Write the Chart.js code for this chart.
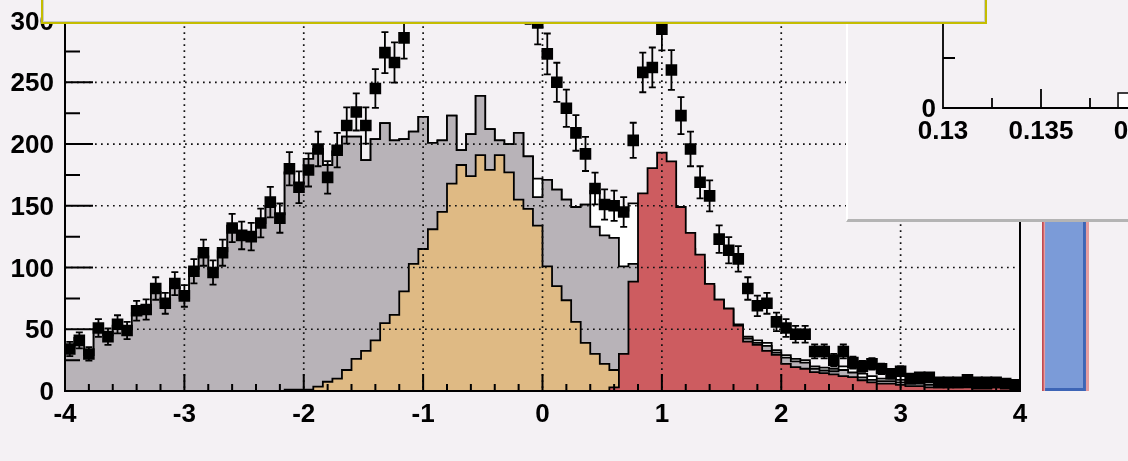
<!DOCTYPE html>
<html>
<head>
<meta charset="utf-8">
<script src="https://cdn.jsdelivr.net/npm/chart.js@4.4.1/dist/chart.umd.min.js"></script>
<style>
  html, body { margin: 0; padding: 0; background: #f4f1f4; overflow: hidden; }
  #wrap { position: relative; width: 1128px; height: 461px; overflow: hidden; }
  #main { position: absolute; left: 0; top: 0; }
  #barPad { position: absolute; left: 1042px; top: 150px; }
  #inset { position: absolute; box-sizing: border-box; left: 846px; top: -10px; width: 300px; height: 232px;
           background: #f4f1f4; border-left: 2px solid #ffffff; border-bottom: 3px solid #b4b4b4; }
  #insetCanvas { position: absolute; left: 0; top: 10px; }
  #titleBox { position: absolute; box-sizing: border-box; left: 41px; top: -6px; width: 946px; height: 30px;
              background: #f4f1f4; border: 2.5px solid #c4bd00; box-shadow: inset 0 0 0 1px #c9c9c9; }
</style>
</head>
<body>
<div id="wrap">
  <canvas id="main" width="1128" height="461"></canvas>
  <canvas id="barPad" width="47" height="241"></canvas>
  <div id="inset"><canvas id="insetCanvas" width="280" height="219"></canvas></div>
  <div id="titleBox"></div>
</div>
<script>
// binning of the main histogram
const xMin = -4, xMax = 4, nBins = 100;
const xTicks = [-4, -3, -2, -1, 0, 1, 2, 3, 4];
const yTicks = [0, 50, 100, 150, 200, 250, 300];

// data points (black squares)
const dataCounts = [
  34, 41, 30, 51, 44, 54, 49, 65, 66, 83,
  71, 87, 77, 97, 112, 96, 112, 132, 126, 125,
  136, 153, 140, 180, 165, 179, 196, 173, 195, 215,
  226, 215, 245, 274, 266, 286, 318, 335, 350, 362,
  372, 378, 376, 368, 356, 344, 332, 322, 315, 298,
  273, 250, 229, 209, 192, 164, 151, 150, 145, 203,
  258, 262, 293, 260, 223, 196, 169, 158, 123, 114,
  107, 83, 69, 71, 56, 51, 46, 46, 32, 32,
  25, 32, 23, 20, 22, 18, 14, 16, 10, 11,
  11, 7, 7, 7, 9, 7, 7, 7, 6, 5
];

// white filled histogram (drawn first, only shows where it is above the grey one)
const whiteHist = [
  35, 43, 29, 50, 45, 53, 50, 63, 66, 80,
  72, 84, 75, 99, 109, 99, 113, 134, 127, 125,
  136, 149, 143, 177, 168, 188, 196, 183, 194, 206,
  206, 187, 204, 217, 203, 204, 210, 222, 201, 203,
  223, 195, 208, 239, 212, 203, 200, 209, 190, 172,
  171, 163, 155, 149, 151, 162, 150, 149, 146, 152,
  150, 145, 140, 135, 125, 115, 105, 85, 74, 66,
  54, 44, 41, 39, 33, 29, 26, 25, 20, 19,
  18, 20, 19, 14, 12, 10, 10, 9, 8, 8,
  7, 7, 6, 6, 5, 5, 5, 5, 5, 4
];

// grey histogram
const grayHist = [
  35, 43, 29, 50, 45, 53, 50, 63, 66, 80,
  72, 84, 75, 99, 109, 99, 113, 134, 127, 125,
  136, 149, 143, 177, 168, 188, 196, 183, 194, 206,
  206, 187, 204, 217, 203, 204, 210, 222, 201, 203,
  223, 195, 208, 239, 212, 203, 200, 209, 190, 157,
  171, 163, 155, 149, 151, 133, 126, 124, 101, 103,
  100, 95, 90, 85, 80, 75, 70, 65, 60, 55,
  50, 42.5, 39, 36.5, 31, 27, 24, 23, 18, 16.6,
  16, 17, 15, 11, 9, 8, 8, 7, 6, 6,
  5, 5, 5, 5, 4, 4, 4, 4, 4, 3
];

// tan histogram
const tanHist = [
  0, 0, 0, 0, 0, 0, 0, 0, 0, 0,
  0, 0, 0, 0, 0, 0, 0, 0, 0, 0,
  0, 0, 0, 1, 1, 1, 3.5, 7.5, 10, 17,
  26, 32.5, 41, 55, 61.6, 80.6, 103, 115, 131, 145,
  168, 183, 174, 191, 179, 191, 177, 155, 147.5, 134,
  101, 85, 73.5, 56, 39, 30, 22, 17, 9, 4,
  2, 0, 0, 0, 0, 0, 0, 0, 0, 0,
  0, 0, 0, 0, 0, 0, 0, 0, 0, 0,
  0, 0, 0, 0, 0, 0, 0, 0, 0, 0,
  0, 0, 0, 0, 0, 0, 0, 0, 0, 0
];

// red histogram
const redHist = [
  0, 0, 0, 0, 0, 0, 0, 0, 0, 0,
  0, 0, 0, 0, 0, 0, 0, 0, 0, 0,
  0, 0, 0, 0, 0, 0, 0, 0, 0, 0,
  0, 0, 0, 0, 0, 0, 0, 0, 0, 0,
  0, 0, 0, 0, 0, 0, 0, 0, 0, 0,
  0, 0, 0, 0, 0, 0, 0, 3, 30, 88.5,
  160, 180.5, 193, 186, 149, 128, 110.5, 86.7, 74, 66.8,
  53, 40, 37.3, 32.5, 29.3, 22, 19.3, 18, 15.3, 14.5,
  13.5, 12, 11.3, 8.7, 7, 6, 6, 5, 4, 4,
  3, 3, 3, 3, 3, 2, 2, 3, 3, 2
];

// inset pad (partly visible)
const insetXTicks = [0.13, 0.135, 0.14];
const insetXLabels = ["0.13", "0.135", "0.14"];
const insetEdges = [0.13893, 0.1395];
const insetCounts = [0.15];

// blue bar at the right edge
const sideBar = [1];

const binWidth = (xMax - xMin) / nBins;
const edges = Array.from({ length: nBins + 1 }, (_, i) => xMin + i * binWidth);
const centers = edges.slice(0, nBins).map(e => e + binWidth / 2);

function histPoints(h) {
  const pts = h.map((v, i) => ({ x: edges[i], y: v }));
  pts.push({ x: edges[nBins], y: h[nBins - 1] });
  pts.push({ x: edges[nBins], y: 0 });
  return pts;
}

function histDataset(h, fill) {
  return {
    type: "line",
    data: histPoints(h),
    stepped: true,
    fill: "origin",
    backgroundColor: fill,
    borderColor: "#000",
    borderWidth: 1.8,
    pointRadius: 0,
    tension: 0
  };
}

const FONT = 'bold 26px "Liberation Sans", Arial, sans-serif';

const rootAxes = {
  id: "rootAxes",
  afterDatasetDraw(chart, args) {
    if (args.index !== 1) return; // grid goes over the filled histograms
    const { ctx, chartArea: a, scales: { x, y } } = chart;
    ctx.save();
    ctx.strokeStyle = "#111";
    ctx.lineWidth = 1.7;
    ctx.setLineDash([1.7, 4.3]);
    ctx.beginPath();
    xTicks.slice(1, -1).forEach(v => {
      const px = x.getPixelForValue(v);
      ctx.moveTo(px, a.top); ctx.lineTo(px, a.bottom);
    });
    yTicks.slice(1).forEach(v => {
      const py = y.getPixelForValue(v);
      ctx.moveTo(a.left, py); ctx.lineTo(a.right, py);
    });
    ctx.stroke();
    ctx.restore();
  },
  afterDatasetsDraw(chart) {
    const { ctx, chartArea: a, scales: { x, y } } = chart;
    ctx.save();

    // error bars
    ctx.beginPath();
    ctx.rect(a.left, a.top, a.right - a.left, a.bottom - a.top);
    ctx.clip();
    ctx.strokeStyle = "#000";
    ctx.lineWidth = 1.8;
    ctx.beginPath();
    dataCounts.forEach((v, i) => {
      const e = Math.sqrt(v);
      const px = x.getPixelForValue(centers[i]);
      const p1 = y.getPixelForValue(v + e), p2 = y.getPixelForValue(v - e);
      ctx.moveTo(px, p1); ctx.lineTo(px, p2);
      ctx.moveTo(px - 3.5, p1); ctx.lineTo(px + 3.5, p1);
      ctx.moveTo(px - 3.5, p2); ctx.lineTo(px + 3.5, p2);
    });
    ctx.stroke();
    ctx.restore();

    ctx.save();
    ctx.strokeStyle = "#000";
    ctx.lineWidth = 2;
    ctx.beginPath();
    // frame
    ctx.moveTo(a.left, a.top); ctx.lineTo(a.left, a.bottom); ctx.lineTo(a.right, a.bottom); ctx.lineTo(a.right, a.top);
    // y ticks
    yTicks.forEach((v, i) => {
      const py = y.getPixelForValue(v);
      ctx.moveTo(a.left, py); ctx.lineTo(a.left + 28, py);
      if (i > 0) {
        const pm = y.getPixelForValue(v - (v - yTicks[i - 1]) / 2);
        ctx.moveTo(a.left, pm); ctx.lineTo(a.left + 15, pm);
      }
    });
    // x ticks
    xTicks.forEach((v, i) => {
      const px = x.getPixelForValue(v);
      ctx.moveTo(px, a.bottom); ctx.lineTo(px, a.bottom - 17);
      if (i > 0) {
        const step = (v - xTicks[i - 1]) / 5;
        for (let k = 1; k < 5; k++) {
          const pm = x.getPixelForValue(xTicks[i - 1] + k * step);
          ctx.moveTo(pm, a.bottom); ctx.lineTo(pm, a.bottom - 7);
        }
      }
    });
    ctx.stroke();

    // labels
    ctx.fillStyle = "#000";
    ctx.font = FONT;
    ctx.textAlign = "right";
    ctx.textBaseline = "middle";
    yTicks.forEach(v => ctx.fillText(String(v), a.left - 11, y.getPixelForValue(v) + 2));
    ctx.textAlign = "center";
    xTicks.forEach(v => ctx.fillText(String(v), x.getPixelForValue(v), a.bottom + 24));
    ctx.restore();
  }
};

new Chart(document.getElementById("main"), {
  type: "line",
  data: {
    datasets: [
      {
        type: "line",
        data: dataCounts.map((v, i) => ({ x: centers[i], y: v })),
        showLine: false,
        pointStyle: "rect",
        pointRadius: 8.2,
        pointBackgroundColor: "#000",
        pointBorderWidth: 0
      },
      histDataset(redHist, "#cd5c60"),
      histDataset(tanHist, "#dfba84"),
      histDataset(grayHist, "#b8b3b8"),
      histDataset(whiteHist, "#ffffff")
    ]
  },
  options: {
    responsive: false,
    animation: false,
    devicePixelRatio: 1,
    layout: { padding: { left: 65, right: 108, top: 0, bottom: 70 } },
    scales: {
      x: { type: "linear", min: xMin, max: xMax, display: false },
      y: { type: "linear", min: 0, max: 310, display: false }
    },
    plugins: { legend: { display: false }, tooltip: { enabled: false } }
  },
  plugins: [rootAxes]
});

// inset pad
const insetAxes = {
  id: "insetAxes",
  afterDatasetsDraw(chart) {
    const { ctx, chartArea: a, scales: { x, y } } = chart;
    ctx.save();
    ctx.strokeStyle = "#000";
    ctx.lineWidth = 1.8;
    ctx.beginPath();
    ctx.moveTo(a.left, a.top); ctx.lineTo(a.left, a.bottom); ctx.lineTo(a.right + 20, a.bottom);
    insetXTicks.forEach((v, i) => {
      const px = x.getPixelForValue(v);
      ctx.moveTo(px, a.bottom); ctx.lineTo(px, a.bottom - 19);
      if (i > 0) {
        const pm = x.getPixelForValue((v + insetXTicks[i - 1]) / 2);
        ctx.moveTo(pm, a.bottom); ctx.lineTo(pm, a.bottom - 10);
      }
    });
    [0.5, 1].forEach((v, i) => {
      const py = y.getPixelForValue(v);
      ctx.moveTo(a.left, py); ctx.lineTo(a.left + (i ? 24 : 12), py);
    });
    ctx.stroke();
    ctx.fillStyle = "#000";
    ctx.font = FONT;
    ctx.textBaseline = "middle";
    ctx.textAlign = "right";
    ctx.fillText("0", a.left - 7, y.getPixelForValue(0) + 2);
    ctx.fillText("1", a.left - 7, y.getPixelForValue(1) + 2);
    ctx.textAlign = "center";
    insetXTicks.forEach((v, i) => ctx.fillText(insetXLabels[i], x.getPixelForValue(v), a.bottom + 24));
    ctx.restore();
  }
};

new Chart(document.getElementById("insetCanvas"), {
  type: "line",
  data: {
    datasets: [{
      data: [{ x: insetEdges[0], y: 0 }, { x: insetEdges[0], y: insetCounts[0] },
             { x: insetEdges[1], y: insetCounts[0] }, { x: insetEdges[1], y: 0 }],
      stepped: true,
      fill: "origin",
      backgroundColor: "#ffffff",
      borderColor: "#000",
      borderWidth: 1.5,
      pointRadius: 0
    }]
  },
  options: {
    responsive: false,
    animation: false,
    devicePixelRatio: 1,
    layout: { padding: { left: 95, right: 0, top: 0, bottom: 111 } },
    scales: {
      x: { type: "linear", min: 0.13, max: 0.139439, display: false },
      y: { type: "linear", min: 0, max: 1.08, display: false }
    },
    plugins: { legend: { display: false }, tooltip: { enabled: false } }
  },
  plugins: [insetAxes]
});

// blue bar pad
new Chart(document.getElementById("barPad"), {
  type: "bar",
  data: {
    labels: [""],
    datasets: [
      {
        data: sideBar,
        backgroundColor: "#7b9bd8",
        borderColor: "#3d65b6",
        borderWidth: { top: 0, left: 0, right: 3, bottom: 3 },
        borderSkipped: false,
        barPercentage: 0.87,
        categoryPercentage: 1,
        grouped: false,
        order: 0
      },
      {
        data: sideBar,
        backgroundColor: "#e49ca0",
        borderColor: "#c24a50",
        borderWidth: { top: 0, left: 2, right: 0, bottom: 0 },
        borderSkipped: false,
        barPercentage: 1,
        categoryPercentage: 1,
        grouped: false,
        order: 1
      }
    ]
  },
  options: {
    responsive: false,
    animation: false,
    devicePixelRatio: 1,
    layout: { padding: 0 },
    scales: {
      x: { display: false },
      y: { min: 0, max: 1, display: false }
    },
    plugins: { legend: { display: false }, tooltip: { enabled: false } }
  }
});
</script>
</body>
</html>
